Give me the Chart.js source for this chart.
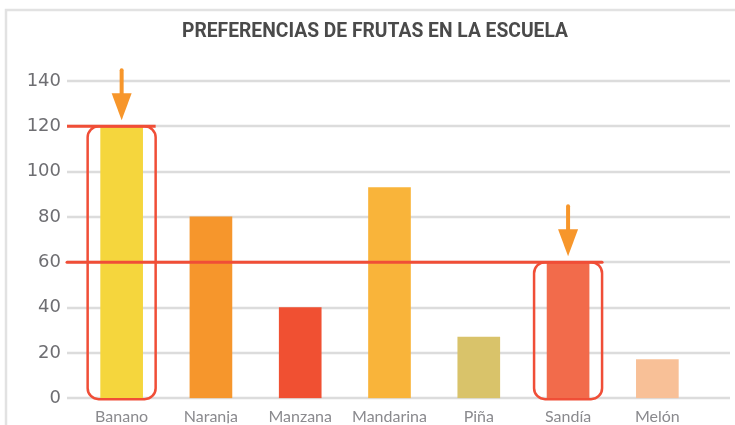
<!DOCTYPE html>
<html>
<head>
<meta charset="utf-8">
<script src="https://cdn.jsdelivr.net/npm/chart.js@4.4.1/dist/chart.umd.min.js"></script>
<style>
  html, body { margin: 0; padding: 0; background: #ffffff; }
  #wrap { width: 735px; height: 425px; position: relative; }
</style>
</head>
<body>
<div id="wrap"><canvas id="c" width="735" height="425"></canvas></div>
<script>
// Fruit preference survey
const chartTitle = 'PREFERENCIAS DE FRUTAS EN LA ESCUELA';
const categories = ['Banano', 'Naranja', 'Manzana', 'Mandarina', 'Piña', 'Sandía', 'Melón'];
const votes = [120, 80, 40, 93, 27, 60, 17];
const barColors = ['#F5D63D', '#F6962C', '#F05032', '#F9B43A', '#D9C36A', '#F26B4B', '#F8C097'];
const highlighted = [0, 5];          // bars marked with an arrow and a frame
const yTicks = [0, 20, 40, 60, 80, 100, 120, 140];

const RED = '#F04E37';
const ARROW = '#F7962B';
const GRID = '#DCDCDC';

// Narrow bold heading centred above the plot (squeezed horizontally)
const heading = {
  id: 'heading',
  afterDraw(chart) {
    const { ctx } = chart;
    const targetWidth = 386;
    ctx.save();
    ctx.font = "bold 21px Roboto, 'DejaVu Sans', sans-serif";
    ctx.fillStyle = '#4A4A4A';
    ctx.textAlign = 'center';
    ctx.textBaseline = 'middle';
    const w = ctx.measureText(chartTitle).width;
    ctx.translate(375, 32);
    ctx.scale(targetWidth / w, 1);
    ctx.fillText(chartTitle, 0, 0);
    ctx.restore();
  }
};

// Horizontal grid lines running past the plot area, plus the outer frame
const backdrop = {
  id: 'backdrop',
  beforeDatasetsDraw(chart) {
    const { ctx, chartArea, scales: { y } } = chart;
    ctx.save();
    ctx.strokeStyle = '#E2E2E2';
    ctx.lineWidth = 2.5;
    ctx.beginPath();
    ctx.moveTo(6, chart.height + 2);
    ctx.lineTo(6, 10);
    ctx.lineTo(chart.width + 2, 10);
    ctx.stroke();
    ctx.strokeStyle = GRID;
    ctx.lineWidth = 2.5;
    yTicks.forEach(v => {
      const py = Math.round(y.getPixelForValue(v));
      ctx.beginPath();
      ctx.moveTo(chartArea.left - 10, py);
      ctx.lineTo(chart.width - 5, py);
      ctx.stroke();
    });
    ctx.restore();
  }
};

// Reference lines, rounded frames and arrows for the highlighted bars
const callouts = {
  id: 'callouts',
  afterDatasetsDraw(chart) {
    const { ctx, chartArea, scales: { y } } = chart;
    const meta = chart.getDatasetMeta(0);
    ctx.save();
    highlighted.forEach(i => {
      const bar = meta.data[i];
      const top = y.getPixelForValue(votes[i]);
      const base = y.getPixelForValue(0) + 1;
      const pad = 13;
      const left = bar.x - bar.width / 2 - pad;
      const right = bar.x + bar.width / 2 + pad;

      ctx.strokeStyle = RED;
      ctx.lineWidth = 2.5;
      ctx.beginPath();
      ctx.roundRect(left, top, right - left, base - top, 11);
      ctx.stroke();

      ctx.lineWidth = 3;
      ctx.beginPath();
      ctx.moveTo(chartArea.left - 10, top);
      ctx.lineTo(right, top);
      ctx.stroke();

      const tip = top - 6;
      ctx.strokeStyle = ARROW;
      ctx.fillStyle = ARROW;
      ctx.lineWidth = 4;
      ctx.lineCap = 'round';
      ctx.beginPath();
      ctx.moveTo(bar.x, tip - 50);
      ctx.lineTo(bar.x, tip - 20);
      ctx.stroke();
      ctx.beginPath();
      ctx.moveTo(bar.x - 10, tip - 27);
      ctx.lineTo(bar.x + 10, tip - 27);
      ctx.lineTo(bar.x, tip);
      ctx.closePath();
      ctx.fill();
    });
    ctx.restore();
  }
};

new Chart(document.getElementById('c'), {
  type: 'bar',
  data: {
    labels: categories,
    datasets: [{
      data: votes,
      backgroundColor: barColors,
      borderWidth: 0,
      barThickness: 42
    }]
  },
  options: {
    responsive: false,
    animation: false,
    layout: { padding: { left: 0, right: 33, top: 81, bottom: 0 } },
    plugins: {
      legend: { display: false },
      tooltip: { enabled: false },
      title: { display: false }
    },
    scales: {
      x: {
        grid: { display: false, drawTicks: false },
        border: { display: false },
        ticks: {
          color: '#8A8A8E',
          padding: 9,
          font: { family: "Lato, 'DejaVu Sans', sans-serif", size: 16 }
        },
        afterFit(scale) { scale.height = 25; }
      },
      y: {
        min: 0,
        max: 140,
        grid: { display: false, drawTicks: false },
        border: { display: false },
        afterBuildTicks(scale) { scale.ticks = yTicks.map(v => ({ value: v })); },
        ticks: {
          color: '#6E6E72',
          padding: 16,
          font: { family: "'DejaVu Sans', sans-serif", size: 18 }
        },
        afterFit(scale) { scale.width = 77; }
      }
    }
  },
  plugins: [backdrop, callouts, heading]
});
</script>
</body>
</html>
